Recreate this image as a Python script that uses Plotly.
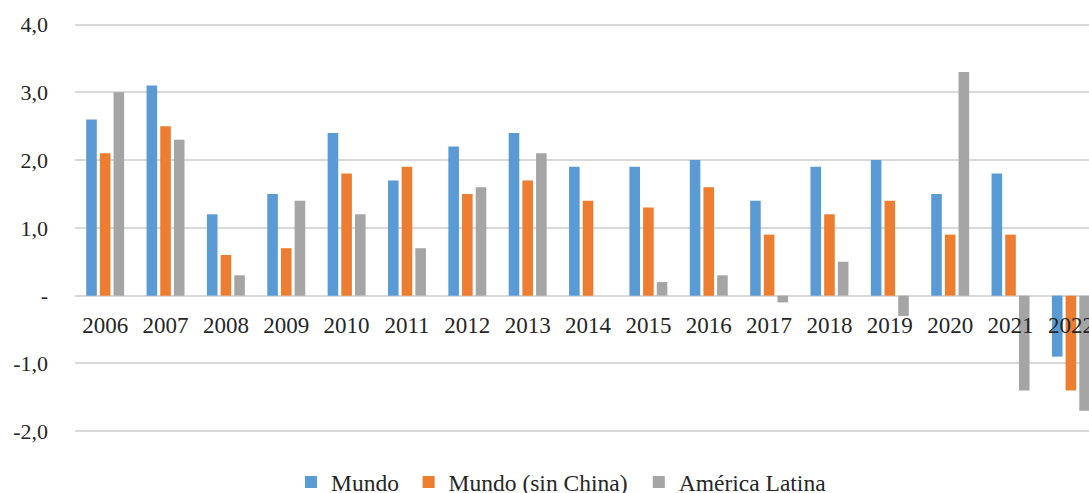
import plotly.graph_objects as go

years = ["2006", "2007", "2008", "2009", "2010", "2011", "2012", "2013", "2014",
         "2015", "2016", "2017", "2018", "2019", "2020", "2021", "2022"]
mundo = [2.6, 3.1, 1.2, 1.5, 2.4, 1.7, 2.2, 2.4, 1.9, 1.9, 2.0, 1.4, 1.9, 2.0, 1.5, 1.8, -0.9]
mundo_sin_china = [2.1, 2.5, 0.6, 0.7, 1.8, 1.9, 1.5, 1.7, 1.4, 1.3, 1.6, 0.9, 1.2, 1.4, 0.9, 0.9, -1.4]
america_latina = [3.0, 2.3, 0.3, 1.4, 1.2, 0.7, 1.6, 2.1, 0.0, 0.2, 0.3, -0.1, 0.5, -0.3, 3.3, -1.4, -1.7]

series_names = ["Mundo", "Mundo (sin China)", "América Latina"]
colors = ["#5B9BD5", "#ED7D31", "#A5A5A5"]
legend_ids = ["legend", "legend2", "legend3"]
legend_x = [0.213, 0.329, 0.556]

ytick_vals = [-2, -1, 0, 1, 2, 3, 4]
ytick_text = ["-2,0", "-1,0", "-", "1,0", "2,0", "3,0", "4,0"]

FONT = "Times New Roman, Liberation Serif, DejaVu Serif, serif"
TXT = "#262626"

fig = go.Figure()
for name, vals, col, lid in zip(series_names, [mundo, mundo_sin_china, america_latina], colors, legend_ids):
    fig.add_trace(go.Bar(x=years, y=vals, name=name, legend=lid,
                         marker=dict(color=col, line=dict(width=0))))

legend_common = dict(orientation="h", xanchor="left", y=-0.099, yanchor="middle",
                     font=dict(family=FONT, size=23.5, color=TXT), itemwidth=30,
                     bgcolor="rgba(0,0,0,0)", borderwidth=0)

fig.update_layout(
    width=1089, height=493,
    margin=dict(l=75, r=0, t=14, b=53, autoexpand=False),
    paper_bgcolor="white", plot_bgcolor="white",
    barmode="group", bargap=0.32, bargroupgap=0.226,
    font=dict(family=FONT, size=22, color=TXT),
    showlegend=True,
    legend=dict(x=legend_x[0], **legend_common),
    legend2=dict(x=legend_x[1], **legend_common),
    legend3=dict(x=legend_x[2], **legend_common),
    xaxis=dict(type="category", range=[-0.5, 16.30], anchor="free", position=0.3392,
               showgrid=False, showline=False, zeroline=False, ticks="",
               ticklabelstandoff=13,
               tickfont=dict(family=FONT, size=23, color=TXT)),
    yaxis=dict(range=[-2.130, 4.155], tickvals=ytick_vals, ticktext=ytick_text,
               showgrid=True, gridcolor="#D9D9D9", gridwidth=1.5,
               zeroline=True, zerolinecolor="#D9D9D9", zerolinewidth=1.5,
               showline=False, ticks="", ticklabelstandoff=26,
               tickfont=dict(family=FONT, size=22, color=TXT)),
)

fig.write_html("out.html", config={"displayModeBar": False},
               post_script="document.body.style.margin='0';document.body.style.overflow='hidden';")
